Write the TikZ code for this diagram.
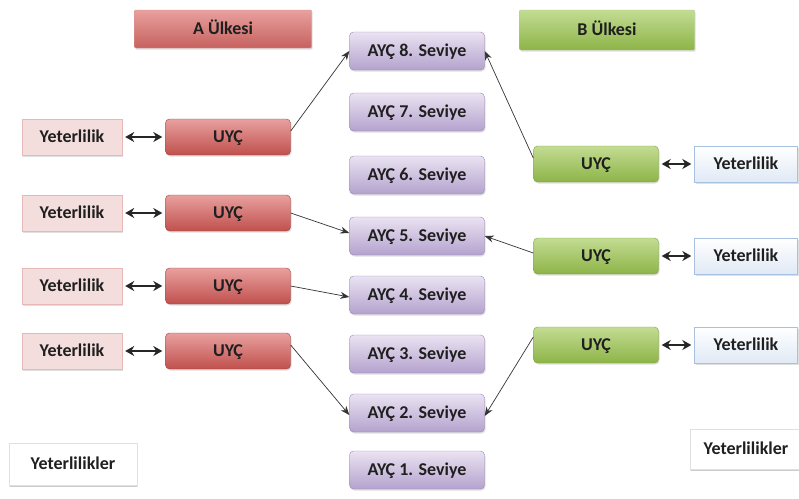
\documentclass[tikz,border=0pt]{standalone}
\usepackage{fontspec}
\setmainfont{Carlito}
\usetikzlibrary{arrows.meta,shadows}
\definecolor{redA}{HTML}{C0504D}
\definecolor{redB}{HTML}{E8A09E}
\definecolor{pinkF}{HTML}{F4DEDD}
\definecolor{pinkD}{HTML}{E6B9B8}
\definecolor{purA}{HTML}{B4A2CD}
\definecolor{purB}{HTML}{EAE3F2}
\definecolor{purD}{HTML}{9B87BA}
\definecolor{grA}{HTML}{8DB447}
\definecolor{grB}{HTML}{C3DC93}
\definecolor{grD}{HTML}{7FA53C}
\definecolor{blF}{HTML}{EEF3FA}
\definecolor{blD}{HTML}{A9C1E0}
\tikzset{
  box/.style={minimum height=36pt, font=\bfseries\fontsize{18}{20}\selectfont, text=black!88, inner sep=0pt,
    text height=11.5pt, text depth=0pt,
    drop shadow={shadow xshift=1pt,shadow yshift=-1.5pt,opacity=0.25}},
  redbox/.style={box, rounded corners=4pt, draw=redA!85!black, top color=redB, bottom color=redA, minimum width=125pt},
  pinkbox/.style={box, draw=pinkD, fill=pinkF, minimum width=100pt},
  purbox/.style={box, rounded corners=4pt, draw=purD, top color=purB, bottom color=purA, minimum width=135pt, minimum height=38pt},
  grbox/.style={box, rounded corners=4pt, draw=grD, top color=grB, bottom color=grA, minimum width=125pt},
  bluebox/.style={box, draw=blD, top color=white, bottom color=blF!80!blD, minimum width=103pt},
  headA/.style={box, draw=redA!60, top color=redB, bottom color=redA!90, minimum width=177pt, minimum height=38pt, rounded corners=1pt},
  headB/.style={box, draw=grD!60, top color=grB, bottom color=grA, minimum width=175pt, minimum height=40pt, rounded corners=1pt},
  plain/.style={box, draw=black!12, fill=white, drop shadow={shadow xshift=0pt,shadow yshift=-1.5pt,opacity=0.2}},
  conn/.style={-{Stealth[length=9pt,width=7pt]}, line width=0.7pt, black!80},
  dbl/.style={{Stealth[length=9pt,width=10pt]}-{Stealth[length=9pt,width=10pt]}, line width=1.8pt, black!85, shorten <=3pt, shorten >=3pt}
}
\begin{document}
\begin{tikzpicture}[x=1pt,y=-1pt]
\useasboundingbox (0,0) rectangle (799,498);
\node[headA] (A) at (223,29) {A Ülkesi};
\node[headB] (B) at (607,30) {B Ülkesi};

\node[purbox] (s8) at (417,51) {AYÇ 8. Seviye};
\node[purbox] (s7) at (417,112) {AYÇ 7. Seviye};
\node[purbox] (s6) at (417,175) {AYÇ 6. Seviye};
\node[purbox] (s5) at (417,236) {AYÇ 5. Seviye};
\node[purbox] (s4) at (417,295) {AYÇ 4. Seviye};
\node[purbox] (s3) at (417,354) {AYÇ 3. Seviye};
\node[purbox] (s2) at (417,413) {AYÇ 2. Seviye};
\node[purbox] (s1) at (417,470) {AYÇ 1. Seviye};

\node[pinkbox] (ly1) at (72,137) {Yeterlilik};
\node[pinkbox] (ly2) at (72,213) {Yeterlilik};
\node[pinkbox] (ly3) at (72,286) {Yeterlilik};
\node[pinkbox] (ly4) at (72,351) {Yeterlilik};
\node[redbox] (lu1) at (228,137) {UYÇ};
\node[redbox] (lu2) at (228,213) {UYÇ};
\node[redbox] (lu3) at (228,286) {UYÇ};
\node[redbox] (lu4) at (228,351) {UYÇ};

\node[grbox] (ru1) at (596,164) {UYÇ};
\node[grbox] (ru2) at (596,256) {UYÇ};
\node[grbox] (ru3) at (596,345) {UYÇ};
\node[bluebox] (ry1) at (746,164) {Yeterlilik};
\node[bluebox] (ry2) at (746,256) {Yeterlilik};
\node[bluebox] (ry3) at (746,345) {Yeterlilik};

\node[plain, minimum width=128pt, minimum height=42pt] (yl) at (73,464) {Yeterlilikler};
\node[plain, minimum width=112pt, minimum height=40pt] (yr) at (746,449) {Yeterlilikler};

\draw[dbl] (ly1) -- (lu1);
\draw[dbl] (ly2) -- (lu2);
\draw[dbl] (ly3) -- (lu3);
\draw[dbl] (ly4) -- (lu4);
\draw[dbl] (ru1) -- (ry1);
\draw[dbl] (ru2) -- (ry2);
\draw[dbl] (ru3) -- (ry3);

\draw[conn] (lu1.east) ++(0,-6) -- (s8.west);
\draw[conn] (lu2.east) -- ([yshift=3pt]s5.west);
\draw[conn] (lu3.east) -- ([yshift=-2pt]s4.west);
\draw[conn] (lu4.east) ++(0,-6) -- ([yshift=-2pt]s2.west);
\draw[conn] (ru1.west) ++(0,-6) -- (s8.east);
\draw[conn] (ru2.west) ++(0,-3) -- (s5.east);
\draw[conn] (ru3.west) ++(0,-8) -- ([yshift=-3pt]s2.east);
\end{tikzpicture}
\end{document}
